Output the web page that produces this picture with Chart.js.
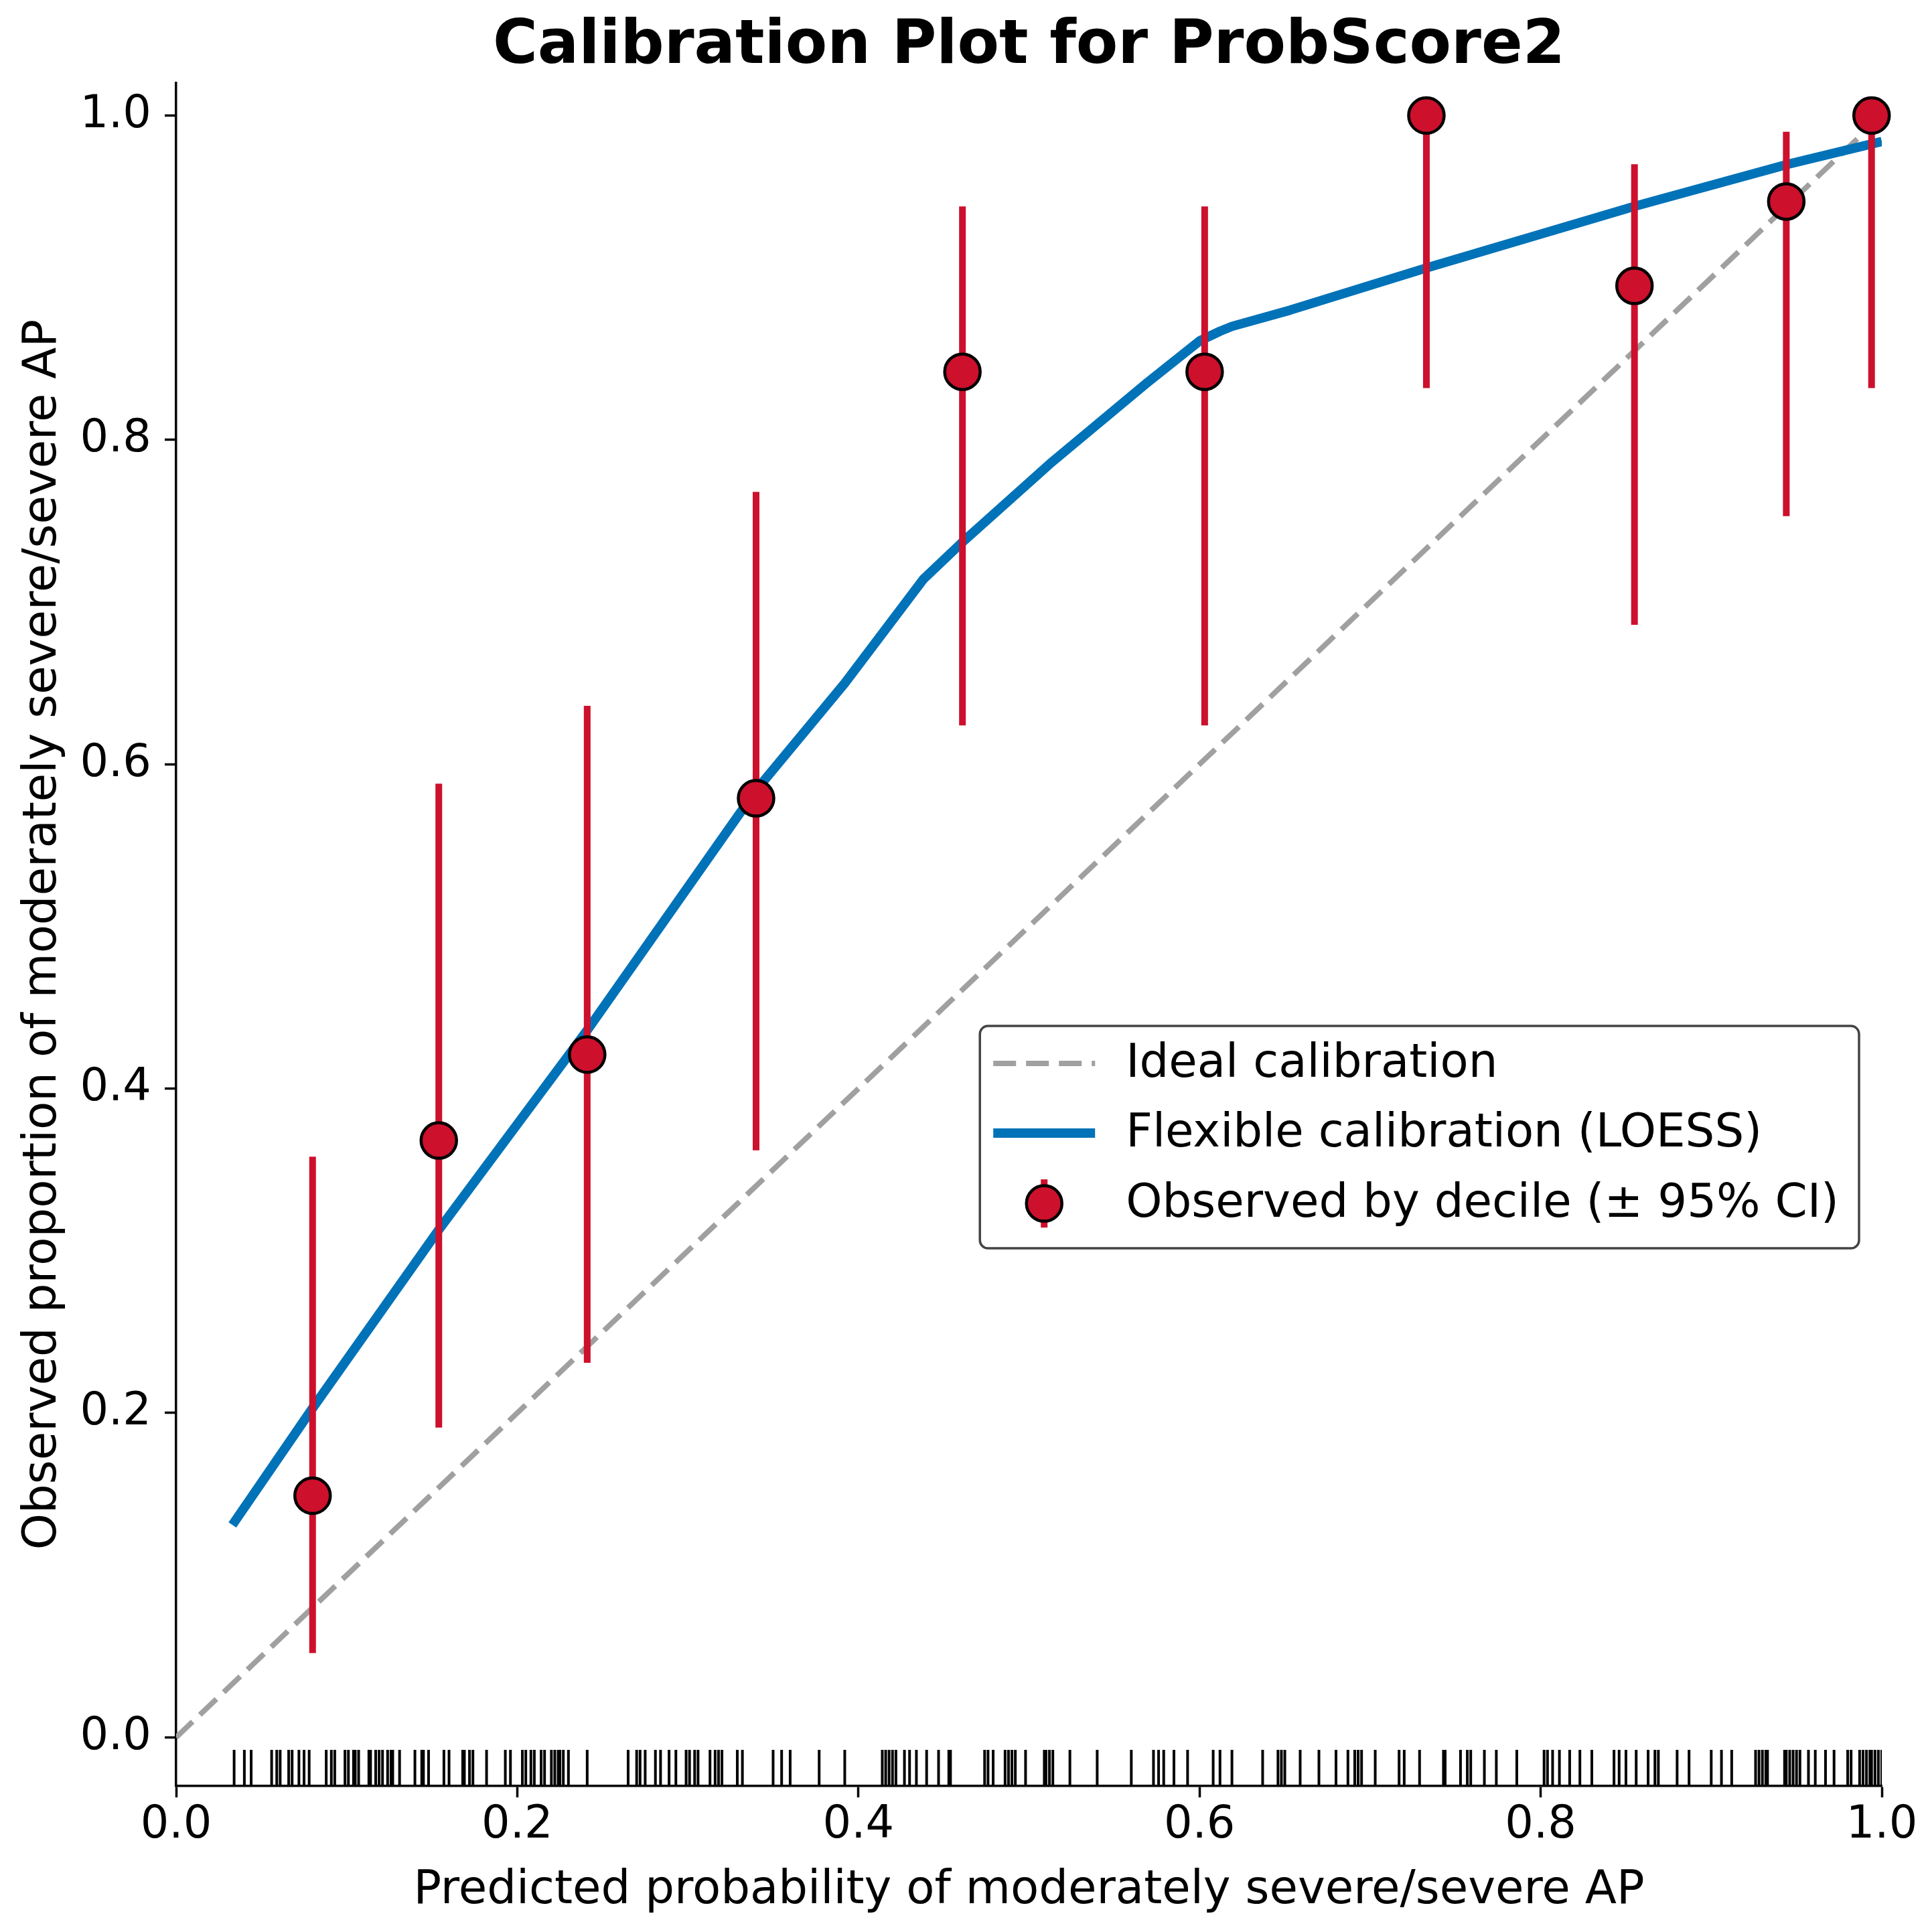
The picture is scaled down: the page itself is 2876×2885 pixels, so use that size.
<!DOCTYPE html>
<html>
<head>
<meta charset="utf-8">
<style>
  html, body { margin: 0; padding: 0; background: #fff; }
  #wrap { width: 2876px; height: 2885px; position: relative; }
</style>
</head>
<body>
<div id="wrap"><canvas id="calChart"></canvas></div>

<script src="https://cdn.jsdelivr.net/npm/chart.js"></script>
<script>
// observed proportion per decile of predicted risk
const obsX = [0.080, 0.154, 0.241, 0.340, 0.461, 0.603, 0.733, 0.855, 0.944, 0.994];
const obsY = [0.149, 0.368, 0.421, 0.579, 0.842, 0.842, 1.000, 0.895, 0.947, 1.000];
const ciLow = [0.052, 0.191, 0.231, 0.362, 0.624, 0.624, 0.832, 0.686, 0.753, 0.832];
const ciHigh = [0.358, 0.588, 0.636, 0.768, 0.944, 0.944, 1.000, 0.970, 0.990, 1.000];

// LOESS smoothed curve
const loessX = [0.033, 0.080, 0.154, 0.241, 0.340, 0.392, 0.438, 0.461, 0.512, 0.569, 0.600, 0.612, 0.619, 0.653, 0.733, 0.855, 0.945, 1.000];
const loessY = [0.131, 0.203, 0.313, 0.436, 0.584, 0.650, 0.714, 0.737, 0.785, 0.835, 0.861, 0.867, 0.870, 0.880, 0.906, 0.944, 0.970, 0.984];

// ideal line
const idealX = [0, 1];
const idealY = [0, 1];

// predicted probabilities shown as rug
const rugValues = [0.034, 0.040, 0.044, 0.056, 0.059, 0.061, 0.066, 0.068, 0.072, 0.075, 0.078, 0.088, 0.091, 0.093,
  0.099, 0.101, 0.104, 0.105, 0.107, 0.113, 0.114, 0.117, 0.119, 0.121, 0.124, 0.126, 0.127, 0.131, 0.140, 0.144,
  0.145, 0.148, 0.157, 0.160, 0.168, 0.169, 0.172, 0.174, 0.182, 0.193, 0.196, 0.203, 0.205, 0.208, 0.210, 0.214,
  0.216, 0.220, 0.222, 0.224, 0.225, 0.227, 0.230, 0.241, 0.265, 0.270, 0.272, 0.275, 0.281, 0.284, 0.289, 0.293,
  0.299, 0.301, 0.304, 0.306, 0.313, 0.316, 0.318, 0.320, 0.329, 0.332, 0.350, 0.355, 0.360, 0.377, 0.392, 0.414,
  0.416, 0.418, 0.420, 0.422, 0.427, 0.430, 0.434, 0.440, 0.447, 0.453, 0.454, 0.474, 0.476, 0.479, 0.486, 0.488,
  0.490, 0.492, 0.498, 0.509, 0.510, 0.512, 0.514, 0.524, 0.540, 0.560, 0.573, 0.576, 0.579, 0.585, 0.593, 0.608,
  0.612, 0.619, 0.637, 0.646, 0.648, 0.650, 0.659, 0.670, 0.680, 0.687, 0.691, 0.693, 0.695, 0.703, 0.717, 0.720,
  0.729, 0.743, 0.744, 0.753, 0.757, 0.759, 0.767, 0.774, 0.786, 0.802, 0.804, 0.807, 0.811, 0.817, 0.823, 0.830,
  0.843, 0.846, 0.850, 0.856, 0.863, 0.867, 0.869, 0.880, 0.887, 0.900, 0.906, 0.912, 0.926, 0.928, 0.930, 0.932,
  0.933, 0.943, 0.944, 0.946, 0.948, 0.950, 0.952, 0.957, 0.961, 0.967, 0.972, 0.980, 0.982, 0.987, 0.989, 0.991,
  0.993, 0.994, 0.996, 0.998, 1.000];

const xTicks = [0.0, 0.2, 0.4, 0.6, 0.8, 1.0];
const yTicks = [0.0, 0.2, 0.4, 0.6, 0.8, 1.0];

const legendLabels = ['Ideal calibration', 'Flexible calibration (LOESS)', 'Observed by decile (\u00b1 95% CI)'];

const BLUE = '#0072B8';
const RED = '#CD102C';
const GREY = '#A0A0A0';
const FONT = "'DejaVu Sans', sans-serif";

const Y_MIN = -0.03, Y_MAX = 1.02;
const RUG_TOP = -0.0077;
const MARKER_R = 26.5;

// vertical segments with gaps between them
function segments(xs, lo, hi) {
  const pts = [];
  xs.forEach((x, i) => {
    pts.push({x: x, y: lo[i]});
    pts.push({x: x, y: hi[i]});
    pts.push({x: x, y: null});
  });
  return pts;
}

const zip = (xs, ys) => xs.map((x, i) => ({x: x, y: ys[i]}));

// legend drawn inside the plot area, matplotlib style
const legendPlugin = {
  id: 'calLegend',
  afterDatasetsDraw(chart) {
    const ctx = chart.ctx;
    const ca = chart.chartArea;
    ctx.save();
    ctx.font = '69px ' + FONT;
    const textW = Math.max(...legendLabels.map(t => ctx.measureText(t).width));
    const boxW = 218 + textW + 30;
    const boxH = 332;
    const x0 = ca.right - 34 - boxW;
    const y0 = ca.top + 1408;

    ctx.beginPath();
    ctx.roundRect(x0, y0, boxW, boxH, 12);
    ctx.fillStyle = 'rgba(255,255,255,0.85)';
    ctx.fill();
    ctx.lineWidth = 3.5;
    ctx.strokeStyle = '#444';
    ctx.stroke();

    const hx0 = x0 + 20, hx1 = x0 + 172, hxc = (hx0 + hx1) / 2;
    const rows = [y0 + 56, y0 + 160, y0 + 265];

    // dashed grey
    ctx.beginPath();
    ctx.setLineDash([34, 15]);
    ctx.lineWidth = 8;
    ctx.strokeStyle = GREY;
    ctx.moveTo(hx0, rows[0]);
    ctx.lineTo(hx1, rows[0]);
    ctx.stroke();
    ctx.setLineDash([]);

    // blue line
    ctx.beginPath();
    ctx.lineWidth = 14;
    ctx.strokeStyle = BLUE;
    ctx.moveTo(hx0, rows[1]);
    ctx.lineTo(hx1, rows[1]);
    ctx.stroke();

    // marker + errorbar
    ctx.beginPath();
    ctx.lineWidth = 10;
    ctx.strokeStyle = RED;
    ctx.moveTo(hxc, rows[2] - 36);
    ctx.lineTo(hxc, rows[2] + 36);
    ctx.stroke();
    ctx.beginPath();
    ctx.arc(hxc, rows[2], MARKER_R, 0, Math.PI * 2);
    ctx.fillStyle = RED;
    ctx.fill();
    ctx.lineWidth = 4.5;
    ctx.strokeStyle = '#000';
    ctx.stroke();

    ctx.fillStyle = '#000';
    ctx.textBaseline = 'middle';
    ctx.textAlign = 'left';
    legendLabels.forEach((t, i) => ctx.fillText(t, x0 + 218, rows[i] + 2));
    ctx.restore();
  }
};

const ctx = document.getElementById('calChart').getContext('2d');
const calChart = new Chart(ctx, {
  type: 'scatter',
  data: {
    datasets: [
      {
        label: 'Observed by decile',
        data: zip(obsX, obsY),
        showLine: false,
        pointRadius: MARKER_R,
        pointBackgroundColor: RED,
        pointBorderColor: '#000',
        pointBorderWidth: 4.5,
        clip: false,
        order: 1
      },
      {
        label: '95% CI',
        type: 'line',
        data: segments(obsX, ciLow, ciHigh),
        borderColor: RED,
        borderWidth: 10,
        borderCapStyle: 'butt',
        pointRadius: 0,
        spanGaps: false,
        order: 2
      },
      {
        label: 'Flexible calibration (LOESS)',
        type: 'line',
        data: zip(loessX, loessY),
        borderColor: BLUE,
        borderWidth: 14,
        borderJoinStyle: 'round',
        pointRadius: 0,
        tension: 0,
        order: 3
      },
      {
        label: 'Ideal calibration',
        type: 'line',
        data: zip(idealX, idealY),
        borderColor: GREY,
        borderWidth: 8,
        borderDash: [34, 15],
        pointRadius: 0,
        order: 4
      },
      {
        label: 'rug',
        type: 'line',
        data: segments(rugValues, rugValues.map(() => Y_MIN), rugValues.map(() => RUG_TOP)),
        borderColor: '#000',
        borderWidth: 4,
        pointRadius: 0,
        spanGaps: false,
        order: 5
      }
    ]
  },
  options: {
    responsive: true,
    maintainAspectRatio: false,
    devicePixelRatio: 1,
    animation: false,
    events: [],
    layout: { padding: { left: 0, right: 66, top: 0, bottom: 0 } },
    plugins: {
      legend: { display: false },
      tooltip: { enabled: false },
      title: {
        display: true,
        fullSize: false,
        text: 'Calibration Plot for ProbScore2',
        color: '#000',
        font: { family: FONT, size: 91, weight: 'bold', lineHeight: 1.1 },
        padding: { top: 20, bottom: 4 }
      }
    },
    scales: {
      x: {
        type: 'linear',
        min: 0,
        max: 1,
        afterFit: s => { s.height = 218; },
        afterBuildTicks: s => { s.ticks = xTicks.map(v => ({value: v})); },
        border: { display: true, color: '#000', width: 3.5 },
        grid: { drawOnChartArea: false, drawTicks: true, tickLength: 17, tickWidth: 3.5, tickColor: '#000' },
        ticks: {
          color: '#000',
          padding: 2,
          maxRotation: 0,
          font: { family: FONT, size: 67 },
          callback: v => v.toFixed(1)
        },
        title: {
          display: true,
          text: 'Predicted probability of moderately severe/severe AP',
          color: '#000',
          font: { family: FONT, size: 69 },
          padding: { top: 0, bottom: 20 }
        }
      },
      y: {
        type: 'linear',
        min: Y_MIN,
        max: Y_MAX,
        afterFit: s => { s.width = 263; },
        afterBuildTicks: s => { s.ticks = yTicks.map(v => ({value: v})); },
        border: { display: true, color: '#000', width: 3.5 },
        grid: { drawOnChartArea: false, drawTicks: true, tickLength: 17, tickWidth: 3.5, tickColor: '#000' },
        ticks: {
          color: '#000',
          padding: 20,
          font: { family: FONT, size: 67 },
          callback: v => v.toFixed(1)
        },
        title: {
          display: true,
          text: 'Observed proportion of moderately severe/severe AP',
          color: '#000',
          font: { family: FONT, size: 69 },
          padding: { top: 24, bottom: 0 }
        }
      }
    }
  },
  plugins: [legendPlugin]
});
</script>
</body>
</html>
